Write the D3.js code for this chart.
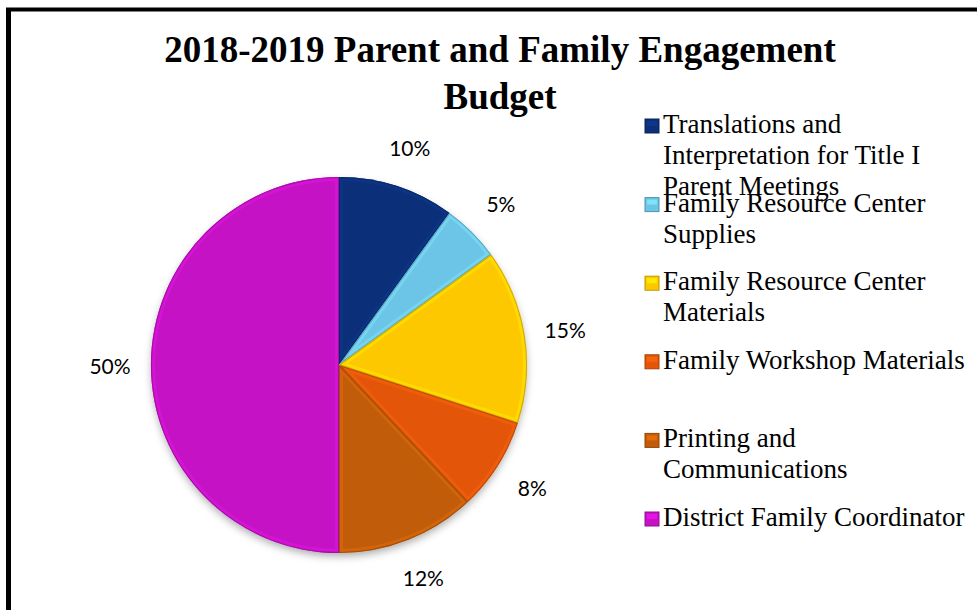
<!DOCTYPE html>
<html><head><meta charset="utf-8">
<script src="https://cdn.jsdelivr.net/npm/d3@7"></script>
<style>body{margin:0;background:#fff}svg{display:block}</style>
</head><body>
<svg id="chart" width="977" height="610"></svg>
<script>
const categories = ["Translations and Interpretation for Title I Parent Meetings","Family Resource Center Supplies","Family Resource Center Materials","Family Workshop Materials","Printing and Communications","District Family Coordinator"];
const legendLines = [["Translations and","Interpretation for Title I","Parent Meetings"],["Family Resource Center","Supplies"],["Family Resource Center","Materials"],["Family Workshop Materials"],["Printing and","Communications"],["District Family Coordinator"]];
const values = [10,5,15,8,12,50];
const labels = ["10%","5%","15%","8%","12%","50%"];
const colors = ["#0b3079","#6cc4e6","#fdc800","#e3560a","#c15c0a","#c412c4"];
const titleLines = ["2018-2019 Parent and Family Engagement","Budget"];

const svg = d3.select("#chart");
const defs = svg.append("defs");
const sh = defs.append("filter").attr("id","shadow").attr("x","-20%").attr("y","-20%").attr("width","140%").attr("height","140%");
sh.append("feDropShadow").attr("dx",0).attr("dy",4).attr("stdDeviation",4).attr("flood-color","#000").attr("flood-opacity",0.35);

// frame (top and left edges)
svg.append("line").attr("x1",6).attr("x2",977).attr("y1",9.5).attr("y2",9.5).attr("stroke","#000").attr("stroke-width",4);
svg.append("line").attr("x1",8.5).attr("x2",8.5).attr("y1",8).attr("y2",610).attr("stroke","#000").attr("stroke-width",5);

// title
svg.append("g").selectAll("text").data(titleLines).join("text")
  .attr("x",500).attr("y",(d,i)=>62+i*47).attr("text-anchor","middle")
  .attr("font-family","Liberation Serif, Times New Roman, serif").attr("font-weight","bold").attr("font-size",37)
  .text(d=>d);

// pie
const cx = 339, cy = 365, r = 188;
const pie = d3.pie().sort(null).value(d=>d)(values);
const arc = d3.arc().innerRadius(0).outerRadius(r);
const g = svg.append("g").attr("transform",`translate(${cx},${cy})`);
g.append("g").attr("filter","url(#shadow)").append("circle").attr("r",r-1).attr("fill","#999");

pie.forEach((d,i)=>{
  defs.append("clipPath").attr("id","clip"+i).append("path").attr("d",arc(d));
});
const slices = g.selectAll("g.slice").data(pie).join("g").attr("class","slice");
slices.append("path").attr("d",arc).attr("fill",(d,i)=>colors[i]);
// inner bevel: light rim clipped to the slice
slices.append("path").attr("d",arc).attr("fill","none")
  .attr("clip-path",(d,i)=>`url(#clip${i})`)
  .attr("stroke",(d,i)=>d3.color(colors[i]).brighter(0.5)).attr("stroke-width",8).attr("stroke-opacity",0.45)
  .attr("stroke-linejoin","round");
slices.append("path").attr("d",arc).attr("fill","none")
  .attr("clip-path",(d,i)=>`url(#clip${i})`)
  .attr("stroke",(d,i)=>d3.color(colors[i]).darker(0.7)).attr("stroke-width",2).attr("stroke-opacity",0.8);

const labelArc = d3.arc().innerRadius(229).outerRadius(229);
g.selectAll("text.lbl").data(pie).join("text").attr("class","lbl")
  .attr("transform",d=>`translate(${labelArc.centroid(d)})`)
  .attr("text-anchor","middle").attr("dominant-baseline","central")
  .attr("font-family","Lato, Open Sans, sans-serif").attr("font-size",21).attr("fill","#000")
  .text((d,i)=>labels[i]);

// legend
const ly = d3.scaleLinear().domain([0,5]).range([119,512]);
const lg = svg.append("g");
const items = lg.selectAll("g").data(categories).join("g").attr("transform",(d,i)=>`translate(645,${ly(i)})`);
items.append("rect").attr("width",14).attr("height",14).attr("fill",(d,i)=>colors[i])
  .attr("stroke",(d,i)=>d3.color(colors[i]).darker(0.8)).attr("stroke-width",1);
items.append("rect").attr("x",2).attr("y",2).attr("width",10).attr("height",5)
  .attr("fill",(d,i)=>d3.color(colors[i]).brighter(0.6)).attr("opacity",0.7);
items.each(function(d,i){
  d3.select(this).selectAll("text").data(legendLines[i]).join("text")
    .attr("x",18).attr("y",(t,j)=>14+j*31)
    .attr("font-family","Liberation Serif, Times New Roman, serif").attr("font-size",27).attr("fill","#000")
    .text(t=>t);
});
</script>
</body></html>
